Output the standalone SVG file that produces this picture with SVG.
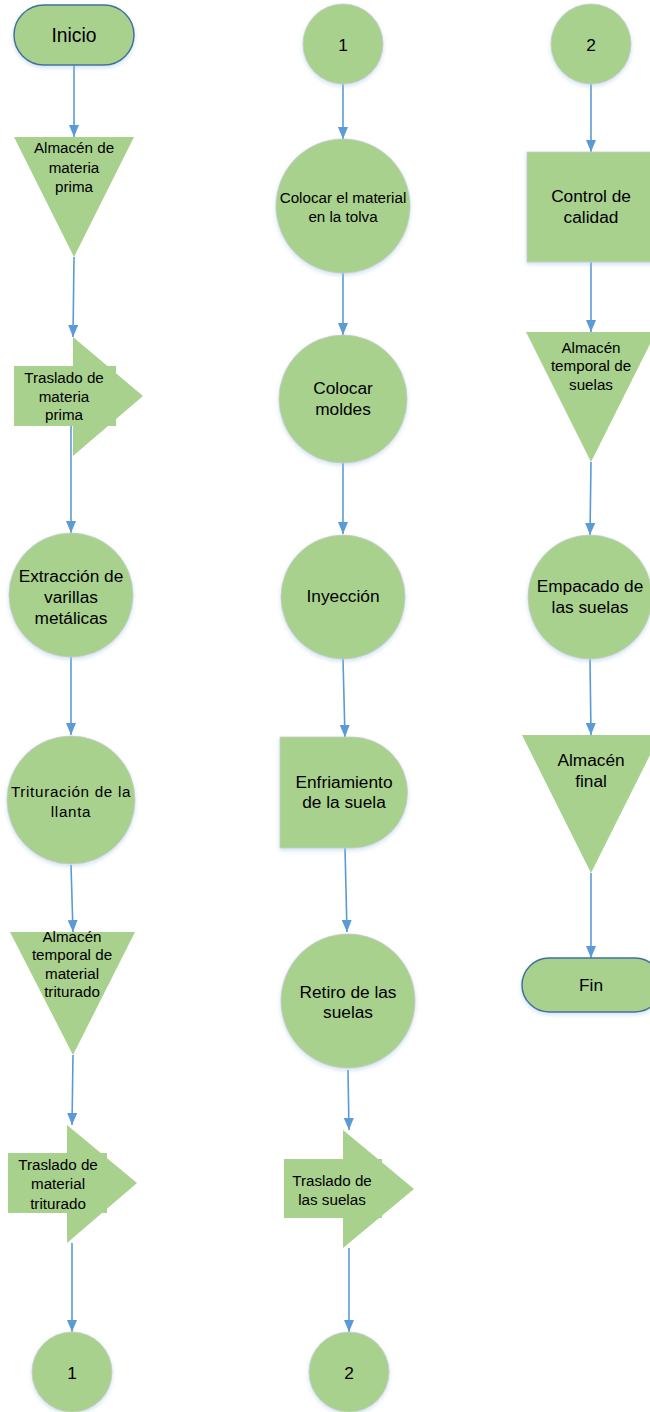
<svg xmlns="http://www.w3.org/2000/svg" width="650" height="1412" viewBox="0 0 650 1412">
<defs>
<marker id="ah" viewBox="0 0 12 10" refX="12" refY="5" markerWidth="12" markerHeight="10" markerUnits="userSpaceOnUse" orient="auto">
<path d="M0,0 L12,5 L0,10 Z" fill="#5b9bd5"/>
</marker>
<filter id="sh" x="-20%" y="-20%" width="140%" height="140%">
<feGaussianBlur in="SourceAlpha" stdDeviation="2"/>
<feOffset dx="0" dy="2" result="b"/>
<feFlood flood-color="#9dc3e6" flood-opacity="0.5"/>
<feComposite in2="b" operator="in"/>
<feMerge><feMergeNode/><feMergeNode in="SourceGraphic"/></feMerge>
</filter>
</defs>
<style>
.n{fill:#a9d18e;stroke:#c9c9c9;stroke-width:0.75;filter:url(#sh)}
.nf{fill:#a9d18e;stroke:none}
.t{fill:#a9d18e;stroke:#41719c;stroke-width:1.5;filter:url(#sh)}
.c{fill:none;stroke:#5b9bd5;stroke-width:1.6;marker-end:url(#ah)}
text{font-family:"Liberation Sans",Arial,sans-serif;fill:#000;text-anchor:middle;dominant-baseline:central}
.s14{font-size:15.2px}
.s16{font-size:17.3px}
.s18{font-size:19.3px}
.cal{font-size:15.2px;letter-spacing:0.7px}
</style>
<g id="connectors">
<path class="c" d="M74,65 L74,137"/>
<path class="c" d="M74,257 L73,337"/>
<path class="c" d="M71,426 L71,533"/>
<path class="c" d="M71,657 L71,735"/>
<path class="c" d="M71,865 L73,932"/>
<path class="c" d="M73,1055 L72,1125"/>
<path class="c" d="M72,1243 L72,1332"/>
<path class="c" d="M343,84 L343,139"/>
<path class="c" d="M343,273 L343,335"/>
<path class="c" d="M343,463 L343,534"/>
<path class="c" d="M343,659 L345,737"/>
<path class="c" d="M345,848 L347,932"/>
<path class="c" d="M348,1070 L349,1130"/>
<path class="c" d="M349,1248 L349,1332"/>
<path class="c" d="M591,84 L591,152"/>
<path class="c" d="M591,262 L591,332"/>
<path class="c" d="M591,462 L590,535"/>
<path class="c" d="M590,659 L591,735"/>
<path class="c" d="M591,873 L591,958"/>
</g>
<g id="inicio">
<rect class="t" x="14" y="5" width="120" height="60" rx="30"/>
<text class="s18" x="74" y="35">Inicio</text>
</g>
<g id="almacen-mp">
<polygon class="nf" points="14,137 134,137 74,257"/>
<text class="s14" x="74" y="147">Almacén de</text>
<text class="s14" x="74" y="167">materia</text>
<text class="s14" x="74" y="186">prima</text>
</g>
<g id="traslado-mp">
<rect class="nf" x="14" y="366" width="102" height="60"/>
<polygon class="nf" points="73,337 143,396 73,456"/>
<text class="s14" x="64" y="377">Traslado de</text>
<text class="s14" x="64" y="396">materia</text>
<text class="s14" x="64" y="414">prima</text>
</g>
<g id="extraccion">
<circle class="n" cx="71" cy="595" r="62"/>
<text class="s16" x="71" y="576">Extracción de</text>
<text class="s16" x="71" y="597">varillas</text>
<text class="s16" x="71" y="618">metálicas</text>
</g>
<g id="trituracion">
<circle class="n" cx="71" cy="800" r="64"/>
<text class="cal" x="71" y="791">Trituración de la</text>
<text class="cal" x="71" y="811">llanta</text>
</g>
<g id="almacen-tt">
<polygon class="nf" points="10,932 135,932 73,1055"/>
<text class="s14" x="72" y="936">Almacén</text>
<text class="s14" x="72" y="954">temporal de</text>
<text class="s14" x="72" y="973">material</text>
<text class="s14" x="72" y="991">triturado</text>
</g>
<g id="traslado-mt">
<rect class="nf" x="8" y="1153" width="99" height="60"/>
<polygon class="nf" points="67,1125 137,1183 67,1243"/>
<text class="s14" x="58" y="1164">Traslado de</text>
<text class="s14" x="58" y="1183">material</text>
<text class="s14" x="58" y="1203">triturado</text>
</g>
<g id="conector1-a">
<circle class="n" cx="72" cy="1372" r="40"/>
<text class="s16" x="72" y="1373">1</text>
</g>
<g id="conector1-b">
<circle class="n" cx="343" cy="44" r="40"/>
<text class="s16" x="343" y="45">1</text>
</g>
<g id="colocar-material">
<circle class="n" cx="343" cy="206" r="67"/>
<text class="s14" x="343" y="197">Colocar el material</text>
<text class="s14" x="343" y="216">en la tolva</text>
</g>
<g id="colocar-moldes">
<circle class="n" cx="343" cy="399" r="64"/>
<text class="s16" x="343" y="388">Colocar</text>
<text class="s16" x="343" y="409">moldes</text>
</g>
<g id="inyeccion">
<circle class="n" cx="343" cy="597" r="62"/>
<text class="s16" x="343" y="596">Inyección</text>
</g>
<g id="enfriamiento">
<path class="n" d="M280,737 L352,737 A55.5,55.5 0 0 1 352,848 L280,848 Z"/>
<text class="s16" x="344" y="782">Enfriamiento</text>
<text class="s16" x="344" y="802">de la suela</text>
</g>
<g id="retiro">
<circle class="n" cx="348" cy="1001" r="67"/>
<text class="s16" x="348" y="992">Retiro de las</text>
<text class="s16" x="348" y="1012">suelas</text>
</g>
<g id="traslado-s">
<rect class="nf" x="284" y="1159" width="98" height="59"/>
<polygon class="nf" points="343,1130 414,1189 343,1248"/>
<text class="s14" x="332" y="1180">Traslado de</text>
<text class="s14" x="332" y="1199">las suelas</text>
</g>
<g id="conector2-a">
<circle class="n" cx="349" cy="1372" r="40"/>
<text class="s16" x="349" y="1373">2</text>
</g>
<g id="conector2-b">
<circle class="n" cx="591" cy="44" r="40"/>
<text class="s16" x="591" y="45">2</text>
</g>
<g id="control">
<rect class="n" x="527" y="152" width="128" height="110"/>
<text class="s16" x="591" y="196">Control de</text>
<text class="s16" x="591" y="217">calidad</text>
</g>
<g id="almacen-ts">
<polygon class="nf" points="526,332 656,332 591,462"/>
<text class="s14" x="591" y="347">Almacén</text>
<text class="s14" x="591" y="365">temporal de</text>
<text class="s14" x="591" y="384">suelas</text>
</g>
<g id="empacado">
<circle class="n" cx="590" cy="597" r="62"/>
<text class="s16" x="590" y="586">Empacado de</text>
<text class="s16" x="590" y="607">las suelas</text>
</g>
<g id="almacen-final">
<polygon class="nf" points="522,735 660,735 591,873"/>
<text class="s16" x="591" y="760">Almacén</text>
<text class="s16" x="591" y="781">final</text>
</g>
<g id="fin">
<rect class="t" x="522" y="958" width="140" height="54" rx="27"/>
<text class="s16" x="591" y="985">Fin</text>
</g>
</svg>
